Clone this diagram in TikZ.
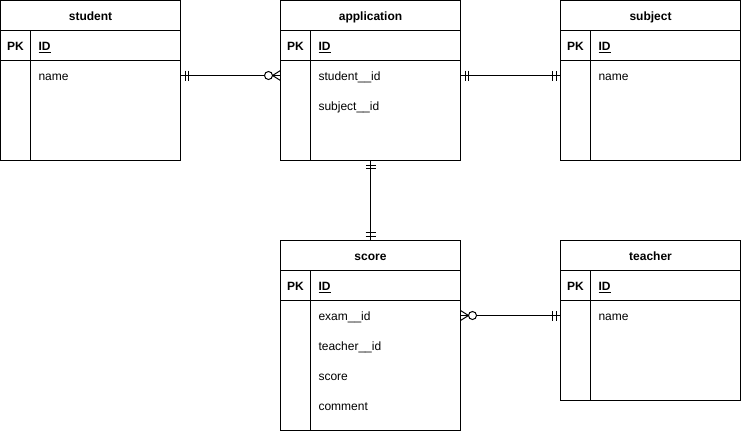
\documentclass[tikz,border=0pt]{standalone}
\usepackage{fontspec}
\setmainfont{Liberation Sans}
\usetikzlibrary{calc}
\tikzset{
  tbl/.style={draw, line width=1pt, rectangle, minimum width=180pt, inner sep=0pt, outer sep=0pt, anchor=north west},
  fld/.style={inner sep=0pt, outer sep=0pt, anchor=west, text height=10pt, text depth=0pt, font=\fontsize{12}{14}\selectfont},
  ttl/.style={fld, anchor=center, font=\fontsize{12}{14}\selectfont\bfseries},
  conn/.style={line width=1pt},
  mone/.pic={\draw[conn] (4.5,-5) -- (4.5,5) (8,-5) -- (8,5);},
  zmany/.pic={\draw[conn] (0,-5) -- (8,0) -- (0,5);
              \draw[conn, fill=white] (12,0) circle[radius=4pt];}
}
\newcommand\ertbl[5]{%
  \node[tbl, minimum height=#4pt] (#1) at (#2,#3) {};
  \node[ttl] (#1-t) at ($(#1.north)+(0,15)$) {#5};
  \draw[conn] ($(#1.north west)+(0,30)$) -- ($(#1.north east)+(0,30)$);
  \draw[conn] ($(#1.north west)+(0,60)$) -- ($(#1.north east)+(0,60)$);
  \draw[conn] ($(#1.north west)+(30,30)$) -- ($(#1.south west)+(30,0)$);
  \node[ttl] (#1-pk) at ($(#1.north west)+(15,45)$) {PK};
  \node[fld] (#1-id) at ($(#1.north west)+(38,45)$) {\bfseries\underline{ID}};
}
\begin{document}
\begin{tikzpicture}[x=1pt, y=-1pt]
\useasboundingbox (0,0) rectangle (741,431);

\ertbl{student}{0.5}{0.5}{160}{student}
\node[fld] (student-f1) at ($(student.north west)+(38,75)$) {name};

\ertbl{app}{280.5}{0.5}{160}{application}
\node[fld] (app-f1) at ($(app.north west)+(38,75)$) {student\_\_id};
\node[fld] (app-f2) at ($(app.north west)+(38,105)$) {subject\_\_id};

\ertbl{subject}{560.5}{0.5}{160}{subject}
\node[fld] (subject-f1) at ($(subject.north west)+(38,75)$) {name};

\ertbl{score}{280.5}{240.5}{190}{score}
\node[fld] (score-f1) at ($(score.north west)+(38,75)$) {exam\_\_id};
\node[fld] (score-f2) at ($(score.north west)+(38,105)$) {teacher\_\_id};
\node[fld] (score-f3) at ($(score.north west)+(38,135)$) {score};
\node[fld] (score-f4) at ($(score.north west)+(38,165)$) {comment};

\ertbl{teacher}{560.5}{240.5}{160}{teacher}
\node[fld] (teacher-f1) at ($(teacher.north west)+(38,75)$) {name};

% connectors
\draw[conn] (student.east |- student-f1) -- (app.west |- app-f1);
\pic[rotate=0] at (student.east |- student-f1) {mone};
\pic[rotate=180] at (app.west |- app-f1) {zmany};

\draw[conn] (app.east |- app-f1) -- (subject.west |- subject-f1);
\pic[rotate=0] at (app.east |- app-f1) {mone};
\pic[rotate=180] at (subject.west |- subject-f1) {mone};

\draw[conn] (app.south) -- (score.north);
\pic[rotate=-90] at (app.south) {mone};
\pic[rotate=90] at (score.north) {mone};

\draw[conn] (score.east |- score-f1) -- (teacher.west |- teacher-f1);
\pic[rotate=0] at (score.east |- score-f1) {zmany};
\pic[rotate=180] at (teacher.west |- teacher-f1) {mone};
\end{tikzpicture}
\end{document}
